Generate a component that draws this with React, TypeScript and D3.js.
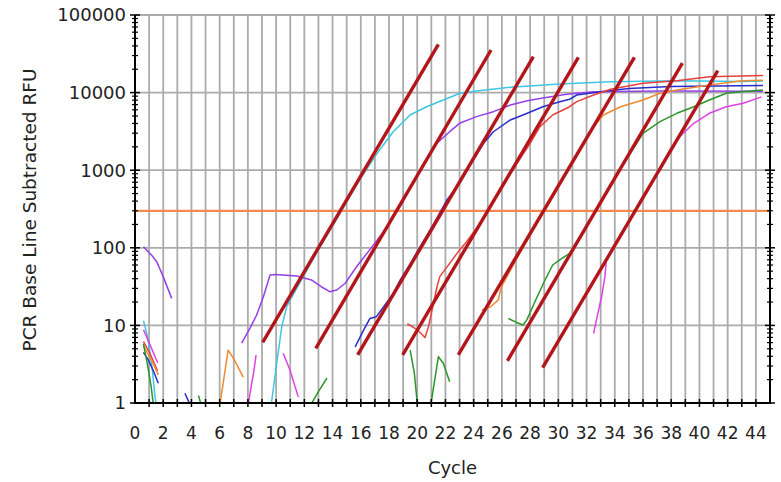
import React from 'react';
import * as d3 from 'd3';

const W = 781;
const H = 482;

const xTickLabels = [0, 2, 4, 6, 8, 10, 12, 14, 16, 18, 20, 22, 24, 26, 28, 30, 32, 34, 36, 38, 40, 42, 44];
const xGridCycles = d3.range(1, 45);
const yTickValues = [1, 10, 100, 1000, 10000, 100000];
const threshold = 300;

type Pt = [number, number];

const cyanSegs: Pt[][] = [
  [[0.6, 11.5], [0.9, 7], [1.2, 3], [1.42, 1.2], [1.6, 0.7]],
  [[9.6, 0.8], [10.04, 3.25], [10.4, 9.6], [10.75, 17.4], [10.93, 20.2], [12, 45], [13, 95], [14, 190], [15, 390], [16, 790], [17.24, 1731], [18.3, 3135], [19.49, 5145], [20.67, 6580], [21.85, 8035], [23.03, 9800], [24.2, 10480], [26.6, 11700], [30.1, 12900], [33.7, 13800], [38.4, 14200], [43.0, 13900], [44.5, 14100]],
];
const purpleSegs: Pt[][] = [
  [[0.6, 103], [1.18, 80], [1.54, 66], [2.0, 42.5], [2.6, 22.3]],
  [[7.56, 5.9], [8.15, 9.2], [8.62, 13.6], [9.1, 23.4], [9.57, 44.6], [9.92, 45.3], [11.46, 43.3], [12.5, 38.5], [13.2, 31.5], [13.8, 27.2], [14.3, 28.6], [14.9, 34.9], [15.7, 57], [16.9, 109], [18, 200], [19, 400], [20, 850], [21.26, 2113], [22.3, 3135], [23.0, 4020], [24.2, 4900], [25.4, 5680], [26.6, 6920], [27.8, 7870], [28.9, 8500], [30.6, 9500], [32.5, 10280], [37.2, 10500], [44.5, 10400]],
];
const blueSegs: Pt[][] = [
  [[0.6, 4.5], [0.94, 3.6], [1.3, 2.6], [1.65, 1.8]],
  [[3.54, 1.33], [3.85, 1.0], [4.0, 0.8]],
  [[15.6, 5.3], [16.2, 8.7], [16.65, 12.3], [17.1, 12.9], [17.8, 19.3], [18.3, 25.9], [18.8, 38.5], [19.5, 62], [20.2, 103], [21, 180], [22.1, 413], [23.0, 678], [23.7, 1110], [24.7, 2220], [25.4, 3130], [26.6, 4440], [27.8, 5410], [28.9, 6580], [30.1, 7640], [30.8, 8200], [31.3, 9310], [33.0, 10280], [35, 11300], [38, 12000], [44.5, 12300]],
];
const redSegs: Pt[][] = [
  [[0.6, 6.2], [1.0, 4.6], [1.6, 2.6]],
  [[19.3, 10.5], [20.0, 8.8], [20.55, 7.0], [20.8, 9.6], [21.4, 31.5], [21.6, 42.5], [22.3, 63], [23.0, 94], [23.4, 114], [24.5, 210], [25.5, 420], [26.5, 850], [28.0, 2220], [28.7, 3640], [29.6, 5145], [30.8, 6580], [31.3, 7640], [32.5, 9310], [33.7, 11030], [36.0, 13200], [38.4, 14200], [40.7, 16030], [44.5, 16600]],
];
const orangeSegs: Pt[][] = [
  [[0.6, 5.5], [1.2, 3.5], [1.65, 2.3]],
  [[6.0, 0.9], [6.6, 4.8], [7.0, 3.7], [7.67, 2.15]],
  [[24.57, 15.8], [25.2, 17.4], [25.75, 21.3], [25.9, 28.6], [26.1, 34.9], [27, 70], [28, 145], [29, 295], [30, 600], [31, 1220], [31.9, 2330], [32.5, 3640], [33.2, 5145], [34.4, 6580], [36.0, 8035], [37.2, 9800], [38.4, 10800], [40.7, 12530], [43.0, 14200], [44.5, 14400]],
];
const greenSegs: Pt[][] = [
  [[0.6, 5.8], [0.9, 3], [1.15, 1.6], [1.35, 0.8]],
  [[4.5, 1.25], [4.8, 0.8]],
  [[12.3, 0.85], [13.0, 1.4], [13.6, 2.1]],
  [[19.5, 4.8], [19.8, 2.4], [20.05, 0.8]],
  [[20.9, 0.8], [21.5, 3.95], [21.85, 3.25], [22.3, 1.88]],
  [[26.45, 12.3], [27.0, 11], [27.5, 10.1], [27.76, 11.7], [28.5, 23.4], [29.06, 38.5], [29.6, 60], [30.1, 69.7], [30.8, 85], [31.1, 105], [32, 190], [33, 385], [34, 790], [35.1, 1650], [36.0, 2990], [37.2, 4220], [38.4, 5410], [39.6, 6580], [40.7, 8035], [41.9, 9800], [43.0, 10280], [44.5, 10800]],
];
const magentaSegs: Pt[][] = [
  [[0.6, 8.8], [1.0, 6], [1.6, 3.3]],
  [[8.0, 0.9], [8.27, 1.8], [8.4, 2.4], [8.58, 4.15]],
  [[10.5, 4.37], [10.98, 2.66], [11.57, 1.2]],
  [[32.5, 7.9], [32.8, 14.3], [33.07, 23.4], [33.3, 42.5], [33.4, 69.7], [34.5, 150], [35.5, 305], [36.5, 630], [37.9, 1820], [38.6, 2700], [39.6, 4020], [40.7, 5410], [41.9, 6580], [43.1, 7280], [44.4, 8800]],
];

const curves = [
  { name: 'cyan', color: '#3ec6e2', segs: cyanSegs },
  { name: 'purple', color: '#9440e8', segs: purpleSegs },
  { name: 'blue', color: '#2b2bd0', segs: blueSegs },
  { name: 'red', color: '#e8403c', segs: redSegs },
  { name: 'orange', color: '#f08a30', segs: orangeSegs },
  { name: 'green', color: '#2a962a', segs: greenSegs },
  { name: 'magenta', color: '#e040e6', segs: magentaSegs },
];

// fitted log-linear lines: [cycleStart, rfuStart, cycleEnd, rfuEnd]
const fitLines: [number, number, number, number][] = [
  [9.05, 6.06, 21.5, 41900],
  [12.81, 5.07, 25.23, 35400],
  [15.78, 4.16, 28.23, 29000],
  [18.97, 4.16, 31.42, 28500],
  [22.91, 4.16, 35.39, 28500],
  [26.39, 3.48, 38.79, 23900],
  [28.89, 2.85, 41.3, 19150],
];

const FONT = 'DejaVu Sans, Verdana, sans-serif';

export default function App() {
  const L = 135, R = 770, T = 15, B = 403;
  const x = d3.scaleLinear().domain([0, 45]).range([L, R]);
  const y = d3.scaleLog().domain([1, 100000]).range([B, T]);
  const line = d3.line<Pt>().x(d => x(d[0])).y(d => y(d[1]));

  const minor: number[] = [];
  for (let d = 1; d < 100000; d *= 10) for (let k = 2; k <= 9; k++) minor.push(k * d);

  return (
    <svg width={W} height={H} style={{ position: 'absolute', left: 0, top: 0, background: '#fff' }}>
      <defs>
        <clipPath id="plot">
          <rect x={L} y={T} width={R - L} height={B - T} />
        </clipPath>
      </defs>
      {/* grid */}
      {xGridCycles.map(c => (
        <line key={'vg' + c} x1={x(c)} x2={x(c)} y1={T} y2={B} stroke="#ababab" strokeWidth={1.8} />
      ))}
      {yTickValues.map(v => (
        <line key={'hg' + v} x1={L} x2={R} y1={y(v)} y2={y(v)} stroke="#ababab" strokeWidth={1.8} />
      ))}
      {/* threshold */}
      <line x1={L} x2={R} y1={y(threshold)} y2={y(threshold)} stroke="#f28a4e" strokeWidth={2.2} />
      {/* curves */}
      <g clipPath="url(#plot)" fill="none">
        {curves.map(c => c.segs.map((s, i) => (
          <path key={c.name + i} d={line(s) || ''} stroke={c.color} strokeWidth={1.5} strokeLinejoin="round" />
        )))}
        {fitLines.map((f, i) => (
          <line key={'fit' + i} x1={x(f[0])} y1={y(f[1])} x2={x(f[2])} y2={y(f[3])} stroke="#b3161a" strokeWidth={3.4} />
        ))}
      </g>
      {/* axes */}
      <line x1={L} x2={L} y1={T} y2={B + 1} stroke="#000" strokeWidth={2} />
      <line x1={R} x2={R} y1={T} y2={B + 1} stroke="#000" strokeWidth={2} />
      <line x1={L} x2={R} y1={B} y2={B} stroke="#000" strokeWidth={2} />
      {[L, R].map(ax => (
        <g key={'ax' + ax}>
          {yTickValues.map(v => (
            <line key={'M' + v} x1={ax - 5} x2={ax + 5} y1={y(v)} y2={y(v)} stroke="#000" strokeWidth={1.5} />
          ))}
          {minor.map(v => (
            <line key={'m' + v} x1={ax - 3} x2={ax + 3} y1={y(v)} y2={y(v)} stroke="#000" strokeWidth={1.2} />
          ))}
        </g>
      ))}
      {xGridCycles.map(c => (
        <line key={'xt' + c} x1={x(c)} x2={x(c)} y1={B - 4} y2={B + 4} stroke="#000" strokeWidth={1.5} />
      ))}
      {/* tick labels */}
      {yTickValues.map(v => (
        <text key={'yl' + v} x={L - 9} y={y(v)} dy="0.36em" textAnchor="end" fontFamily={FONT} fontSize={18} fill="#222">
          {String(v)}
        </text>
      ))}
      {xTickLabels.map(c => (
        <text key={'xl' + c} x={x(c)} y={439} textAnchor="middle" fontFamily={FONT} fontSize={17} fill="#222">
          {String(c)}
        </text>
      ))}
      <text x={(L + R) / 2} y={474} textAnchor="middle" fontFamily={FONT} fontSize={18} fill="#222">Cycle</text>
      <text transform="translate(36,210) rotate(-90)" textAnchor="middle" fontFamily={FONT} fontSize={18.5} fill="#222">
        PCR Base Line Subtracted RFU
      </text>
    </svg>
  );
}
